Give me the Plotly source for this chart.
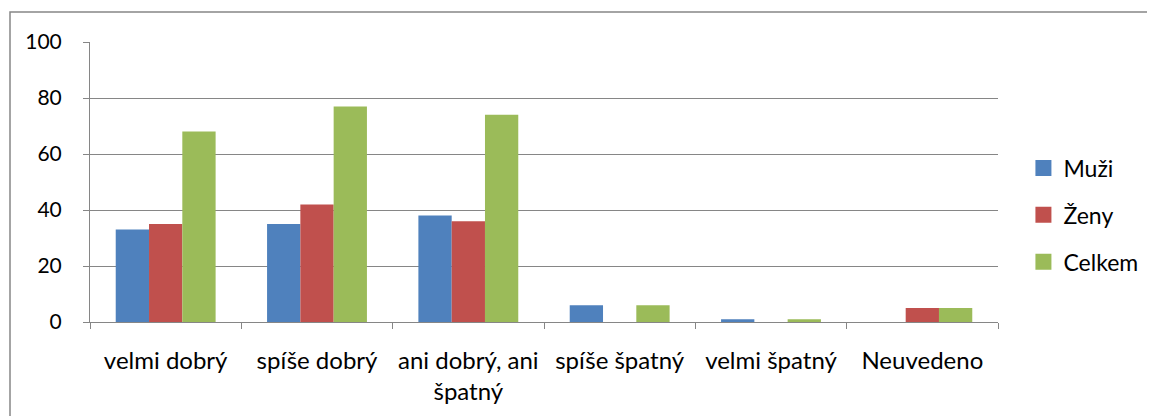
import plotly.graph_objects as go

categories = ["velmi dobrý", "spíše dobrý", "ani dobrý, ani<br>špatný", "spíše špatný", "velmi špatný", "Neuvedeno"]
series_names = ["Muži", "Ženy", "Celkem"]
muzi = [33, 35, 38, 6, 1, 0]
zeny = [35, 42, 36, 0, 0, 5]
celkem = [68, 77, 74, 6, 1, 5]
y_ticks = [0, 20, 40, 60, 80, 100]
colors = ["#4F81BD", "#C0504D", "#9BBB59"]

# page has an 8px body margin, so the figure is sized to the remaining area
W, H = 1147, 408
L, R, T, B = 82, 990, 34, 314

fig = go.Figure()
for name, vals, col in zip(series_names, [muzi, zeny, celkem], colors):
    fig.add_trace(go.Bar(x=categories, y=vals, name=name, marker_color=col,
                         marker_line_width=0, showlegend=False))
for i, (name, col) in enumerate(zip(series_names, colors)):
    fig.add_trace(go.Scatter(x=[None], y=[None], mode="markers", name=name,
                             marker=dict(symbol="square", size=16, color=col),
                             legendgroup=str(i)))

fam = "Lato, 'Noto Sans', sans-serif"
fig.update_layout(
    width=W, height=H,
    margin=dict(l=L, r=W - R, t=T, b=H - B, autoexpand=False),
    paper_bgcolor="white", plot_bgcolor="white",
    font=dict(family=fam, size=23, color="#000000"),
    barmode="group", bargap=0.34, bargroupgap=0,
    legend=dict(x=1.028, y=(B - 207) / (B - T), xanchor="left", yanchor="middle",
                font=dict(size=23), tracegroupgap=14, itemwidth=30),
    xaxis=dict(showline=True, linecolor="#868686", linewidth=1,
               ticks="outside", tickson="boundaries", ticklen=6, tickcolor="#868686",
               ticklabelstandoff=17, showgrid=False, tickfont=dict(size=24),
               tickangle=0, automargin=False),
    yaxis=dict(range=[0, 100], tickvals=y_ticks, showline=True, linecolor="#868686",
               linewidth=1, ticks="outside", ticklen=6, tickcolor="#868686",
               gridcolor="#868686", gridwidth=1, ticklabelstandoff=17, zeroline=False,
               tickfont=dict(size=21), automargin=False),
)

pw, ph = R - L, B - T
fig.add_shape(type="rect", xref="paper", yref="paper",
              x0=(2 - L) / pw, x1=(1200 - L) / pw,
              y0=(B - 460) / ph, y1=(B - 4) / ph,
              line=dict(color="#878787", width=1.5), fillcolor="rgba(0,0,0,0)", layer="below")

fig.write_html("out.html")
